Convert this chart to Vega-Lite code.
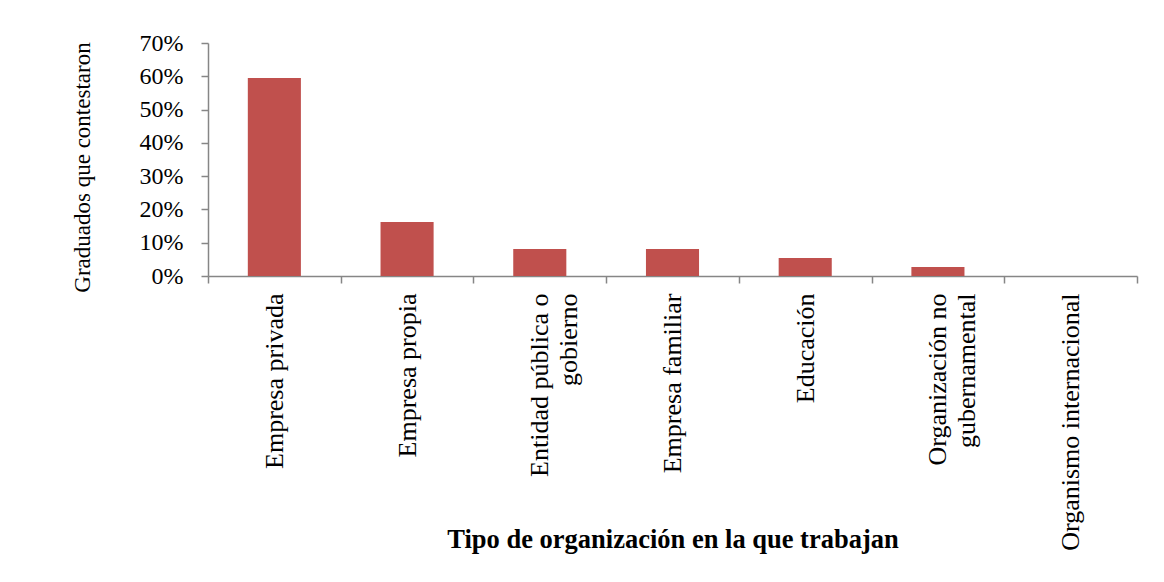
{
  "$schema": "https://vega.github.io/schema/vega-lite/v6.json",
  "width": 929,
  "height": 233,
  "autosize": "none",
  "padding": {"left": 208, "top": 43, "right": 27, "bottom": 306},
  "background": "#ffffff",
  "config": {
    "view": {"stroke": null},
    "font": "Liberation Serif"
  },
  "data": {
    "values": [
      {"tipo": "Empresa privada", "pct": 0.595},
      {"tipo": "Empresa propia", "pct": 0.162},
      {"tipo": "Entidad pública o gobierno", "pct": 0.081},
      {"tipo": "Empresa familiar", "pct": 0.081},
      {"tipo": "Educación", "pct": 0.054},
      {"tipo": "Organización no gubernamental", "pct": 0.027},
      {"tipo": "Organismo internacional", "pct": 0}
    ]
  },
  "mark": {"type": "bar", "color": "#C0504D", "width": {"band": 0.4}},
  "encoding": {
    "x": {
      "field": "tipo",
      "type": "nominal",
      "sort": null,
      "scale": {"paddingInner": 0, "paddingOuter": 0},
      "axis": {
        "title": "Tipo de organización en la que trabajan",
        "titleFont": "Liberation Serif",
        "titleFontSize": 26.5,
        "titleFontWeight": "bold",
        "titleColor": "#000000",
        "titleX": 464.5,
        "titleY": 263,
        "titleAlign": "center",
        "titleBaseline": "middle",
        "labelAngle": -90,
        "labelAlign": "right",
        "labelBaseline": "middle",
        "labelFont": "Liberation Serif",
        "labelFontSize": 26,
        "labelColor": "#000000",
        "labelPadding": 10,
        "labelLineHeight": 29,
        "labelLimit": 0,
        "labelExpr": "datum.label == 'Entidad pública o gobierno' ? ['Entidad pública o', 'gobierno'] : datum.label == 'Organización no gubernamental' ? ['Organización no', 'gubernamental'] : datum.label",
        "tickBand": "extent",
        "tickSize": 7,
        "tickColor": "#868686",
        "domainColor": "#868686",
        "tickWidth": 1.5,
        "domainWidth": 1.5
      }
    },
    "y": {
      "field": "pct",
      "type": "quantitative",
      "scale": {"domain": [0, 0.7], "nice": false},
      "axis": {
        "title": "Graduados que contestaron",
        "titleFont": "Liberation Serif",
        "titleFontSize": 23,
        "titleFontWeight": "normal",
        "titleColor": "#000000",
        "titleX": -126,
        "titleY": 124,
        "titleAngle": -90,
        "titleAlign": "center",
        "titleBaseline": "middle",
        "format": ".0%",
        "values": [0, 0.1, 0.2, 0.3, 0.4, 0.5, 0.6, 0.7],
        "labelFont": "Liberation Serif",
        "labelFontSize": 24,
        "labelColor": "#000000",
        "labelPadding": 18,
        "tickSize": 7,
        "tickColor": "#868686",
        "domainColor": "#868686",
        "tickWidth": 1.5,
        "domainWidth": 1.5,
        "grid": false
      }
    }
  }
}
